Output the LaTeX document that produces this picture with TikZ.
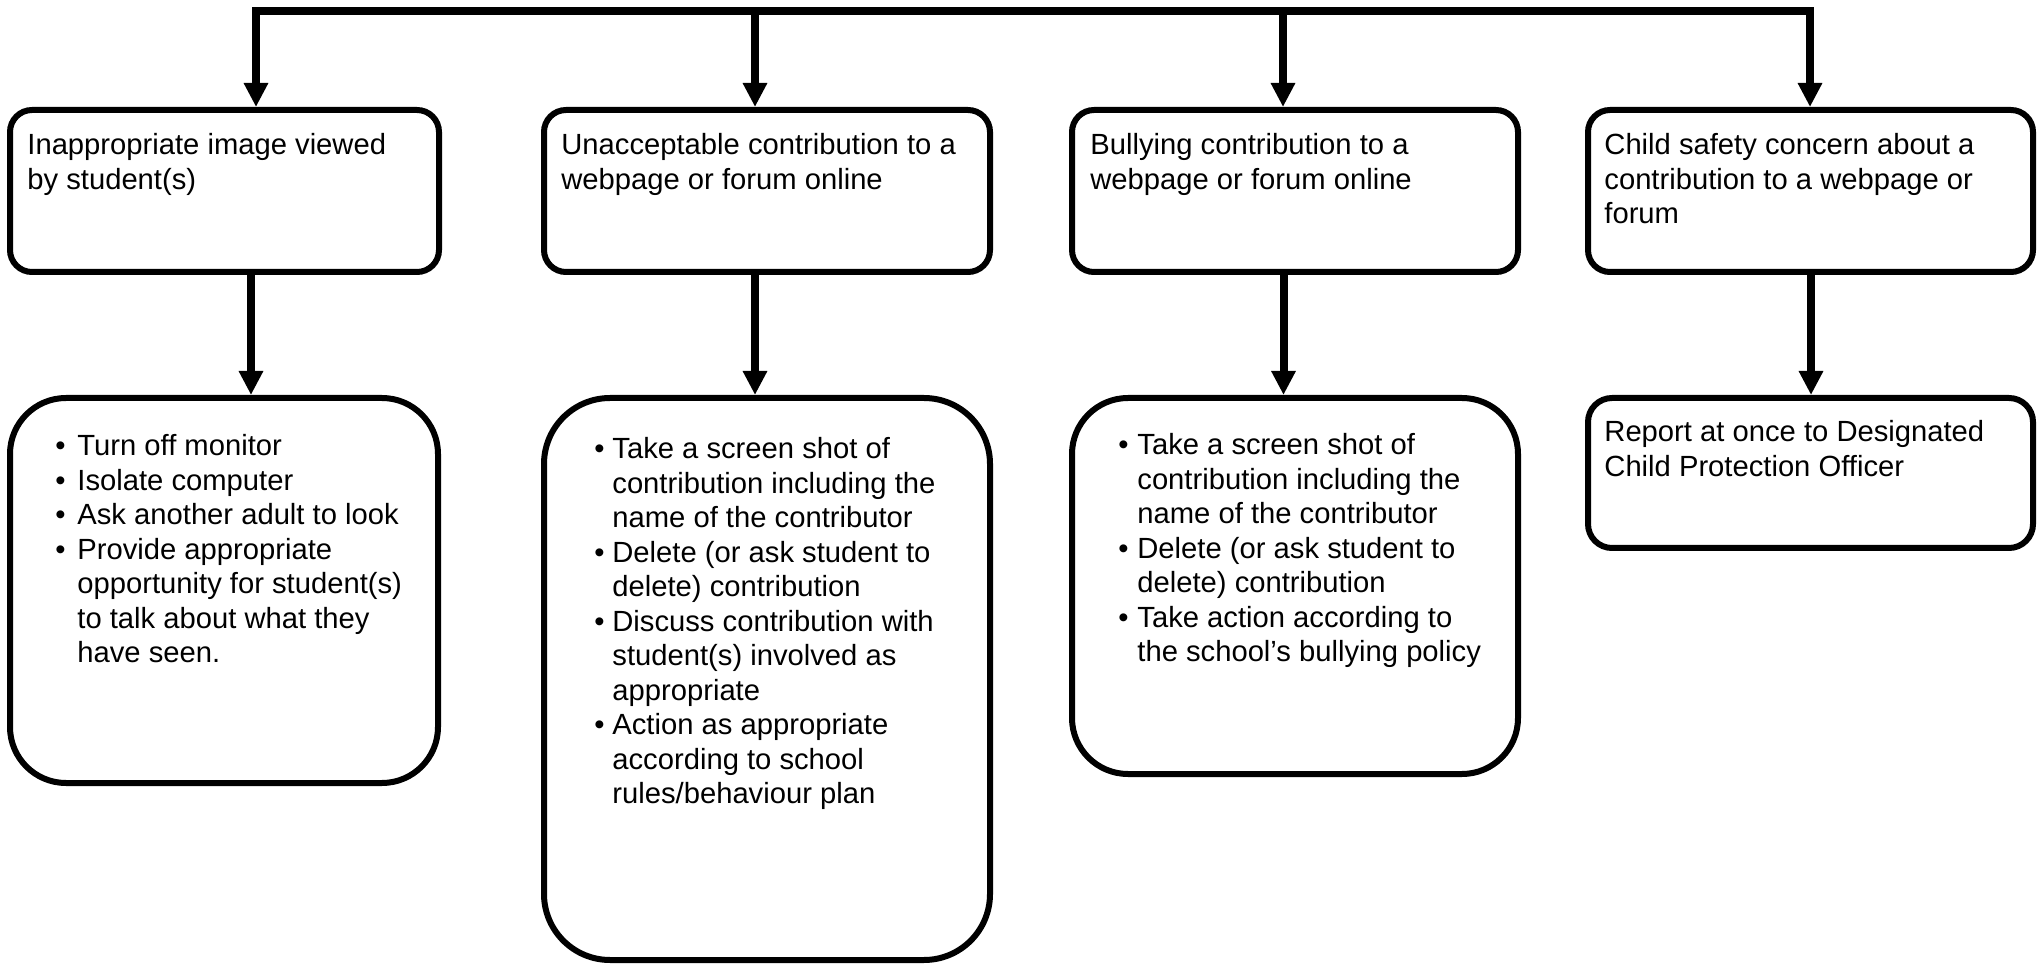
\documentclass[tikz,border=0pt]{standalone}
\usepackage{fontspec}
\setmainfont{Liberation Sans}
\usetikzlibrary{arrows.meta}
\begin{document}
\begin{tikzpicture}[x=0.5pt,y=-0.5pt,
  box/.style={draw, line width=3pt, inner sep=0pt},
  conn/.style={line width=4pt, -{Triangle[length=12pt,width=11.5pt]}},
  bar/.style={line width=4pt, {Triangle[length=12pt,width=11.5pt]}-{Triangle[length=12pt,width=11.5pt]}},
  txt/.style={anchor=base west, inner sep=0pt, font=\fontsize{14.6}{17.25}\selectfont}]
\useasboundingbox (0,0) rectangle (2040,967);

% top boxes
\node[box, minimum width=214.5pt, minimum height=81pt, rounded corners=11pt] (t1) at (224.5,191) {};
\node[box, minimum width=223pt, minimum height=81pt, rounded corners=11pt] (t2) at (767,191) {};
\node[box, minimum width=223pt, minimum height=81pt, rounded corners=11pt] (t3) at (1295,191) {};
\node[box, minimum width=222.5pt, minimum height=81pt, rounded corners=11pt] (t4) at (1810.5,191) {};

% bottom boxes
\node[box, minimum width=214pt, minimum height=192.5pt, rounded corners=28pt] (b1) at (224,590.5) {};
\node[box, minimum width=223pt, minimum height=281pt, rounded corners=33pt] (b2) at (767,679) {};
\node[box, minimum width=223pt, minimum height=188pt, rounded corners=28pt] (b3) at (1295,586) {};
\node[box, minimum width=222.5pt, minimum height=75pt, rounded corners=12pt] (b4) at (1810.5,473) {};

% top texts
\node[txt] (t1t) at (27,155) {\begin{tabular}[t]{@{}l@{}}Inappropriate image viewed\\by student(s)\end{tabular}};
\node[txt] (t2t) at (561,155) {\begin{tabular}[t]{@{}l@{}}Unacceptable contribution to a\\webpage or forum online\end{tabular}};
\node[txt] (t3t) at (1090,155) {\begin{tabular}[t]{@{}l@{}}Bullying contribution to a\\webpage or forum online\end{tabular}};
\node[txt] (t4t) at (1604,155) {\begin{tabular}[t]{@{}l@{}}Child safety concern about a\\contribution to a webpage or\\forum\end{tabular}};

% bottom texts
\node[txt] (b1t) at (55,456) {\begin{tabular}[t]{@{}p{11pt}@{}l@{}}
\textbullet & Turn off monitor\\
\textbullet & Isolate computer\\
\textbullet & Ask another adult to look\\
\textbullet & Provide appropriate\\
 & opportunity for student(s)\\
 & to talk about what they\\
 & have seen.\end{tabular}};
\node[txt] (b2t) at (594,459) {\begin{tabular}[t]{@{}p{9pt}@{}l@{}}
\textbullet & Take a screen shot of\\
 & contribution including the\\
 & name of the contributor\\
\textbullet & Delete (or ask student to\\
 & delete) contribution\\
\textbullet & Discuss contribution with\\
 & student(s) involved as\\
 & appropriate\\
\textbullet & Action as appropriate\\
 & according to school\\
 & rules/behaviour plan\end{tabular}};
\node[txt] (b3t) at (1118,455) {\begin{tabular}[t]{@{}p{9.5pt}@{}l@{}}
\textbullet & Take a screen shot of\\
 & contribution including the\\
 & name of the contributor\\
\textbullet & Delete (or ask student to\\
 & delete) contribution\\
\textbullet & Take action according to\\
 & the school’s bullying policy\end{tabular}};
\node[txt] (b4t) at (1604,442) {\begin{tabular}[t]{@{}l@{}}Report at once to Designated\\Child Protection Officer\end{tabular}};

% connectors from the top bar
\coordinate (a1) at (256,11);
\coordinate (a2) at (755,11);
\coordinate (a3) at (1283,11);
\coordinate (a4) at (1810,11);
\draw[bar] (a1 |- t1.north) -- (a1) -- (a4) -- (a4 |- t4.north);
\draw[conn] (a2) -- (a2 |- t2.north);
\draw[conn] (a3) -- (a3 |- t3.north);

% connectors between rows
\coordinate (m1) at (251,330);
\coordinate (m2) at (755,330);
\coordinate (m3) at (1283.5,330);
\coordinate (m4) at (1811,330);
\draw[conn] (m1 |- t1.south) -- (m1 |- b1.north);
\draw[conn] (m2 |- t2.south) -- (m2 |- b2.north);
\draw[conn] (m3 |- t3.south) -- (m3 |- b3.north);
\draw[conn] (m4 |- t4.south) -- (m4 |- b4.north);
\end{tikzpicture}
\end{document}
